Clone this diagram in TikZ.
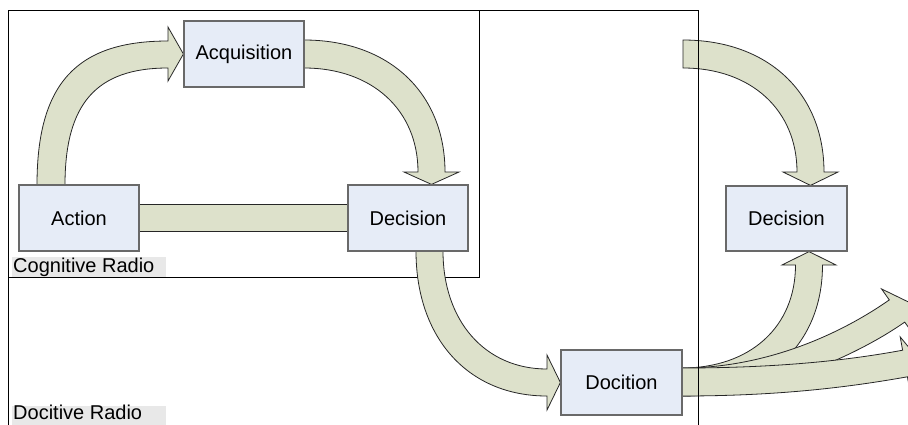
\documentclass[tikz,border=0pt]{standalone}
\usepackage{fontspec}
\setmainfont{Liberation Sans}
\usetikzlibrary{calc}
\definecolor{boxfill}{RGB}{230,236,247}
\definecolor{boxline}{RGB}{105,105,105}
\definecolor{arrowfill}{RGB}{221,225,203}
\definecolor{taggray}{RGB}{232,232,232}
\pgfdeclarelayer{bg}
\pgfdeclarelayer{flow}
\pgfsetlayers{bg,flow,main}
\begin{document}
\begin{tikzpicture}[x=1pt,y=-1pt,
  stage/.style={draw=boxline, fill=boxfill, line width=1.2pt, minimum width=120pt,
    minimum height=66pt, inner sep=0pt, font=\fontsize{20}{24}\selectfont},
  blockarrow/.style={draw=black!85, fill=arrowfill, line width=0.8pt, line join=miter},
  frame/.style={draw=black, line width=0.9pt},
  tag/.style={font=\fontsize{20}{24}\selectfont, inner sep=0pt, anchor=base west}]
\useasboundingbox (0,0) rectangle (908,424);
\clip (0,0) rectangle (908,424);

% process stages
\node[stage] (act)  at (79,218)      {Action};
\node[stage] (acq)  at (244,54)      {Acquisition};
\node[stage] (decL) at (408,218)     {Decision};
\node[stage, minimum width=121pt, minimum height=65pt] (decR) at (786.5,218.5) {Decision};
\node[stage, minimum width=121pt, minimum height=65pt] (doc)  at (621.5,382.5) {Docition};

% cognitive radio frame
\begin{pgfonlayer}{bg}
  \draw[frame] (8,10) rectangle (479,277);
\end{pgfonlayer}

% block arrows of the cycle
\begin{pgfonlayer}{flow}
  % Action -- Decision band
  \path[blockarrow] ($(act.east)+(0,-13.5)$) rectangle ($(decL.west)+(0,13.5)$);
  % Action -> Acquisition
  \path[blockarrow] (37,185) .. controls (37,84) and (76,41) .. (168,41)
    -- (168,27) -- (acq.west) -- (168,81) -- (168,68)
    .. controls (96,68) and (65,104) .. (65,185) -- cycle;
  % Acquisition -> Decision
  \path[blockarrow] (304,40) .. controls (389,40) and (445,93) .. (445,172)
    -- (459,172) -- ($(decL.north)+(23.5,0)$) -- (404,172) -- (418,172)
    .. controls (418,110) and (372,68) .. (304,68) -- cycle;
  % Decision -> Docition
  \path[blockarrow] (416,251) .. controls (416,338) and (468,396) .. (547,396)
    -- (547,410) -- (doc.west) -- (547,355) -- (547,369)
    .. controls (485,369) and (443,321) .. (443,251) -- cycle;
  % incoming arrow to the right Decision
  \path[blockarrow] (683,40) .. controls (768,40) and (824,93) .. (824,172)
    -- (838,172) -- ($(decR.north)+(24,0)$) -- (783,172) -- (797,172)
    .. controls (797,110) and (751,68) .. (683,68) -- cycle;
  % Docition -> Decision
  \path[blockarrow] (682,396) .. controls (767,396) and (822.5,344) .. (822.5,265)
    -- (836,265) -- ($(decR.south)+(22.5,0)$) -- (782,265) -- (795.5,265)
    .. controls (795.5,327) and (750,368) .. (682,368) -- cycle;
  % Docition -> upper right
  \path[blockarrow] (682,396) .. controls (770,396) and (860,353.5) .. (904.7,322.1)
    -- (912.5,333.1) -- (909.3,302.4) -- (881.5,288.9) -- (889.3,299.9)
    .. controls (845,331) and (770,368) .. (682,368) -- cycle;
  % Docition -> right
  \path[blockarrow] (682,396) .. controls (780,396) and (850,387) .. (907.4,376.8)
    -- (909.8,390.1) -- (919.8,360.8) -- (900.2,336.9) -- (902.6,350.2)
    .. controls (850,360) and (780,368) .. (682,368) -- cycle;
\end{pgfonlayer}

% docitive radio frame
\draw[frame] (8,10) rectangle (698.5,440);

% frame captions
\fill[taggray] (12,257) rectangle (166,276.5);
\node[tag] (crtag) at (13,272.5) {Cognitive Radio};
\fill[taggray] (12,406) rectangle (166,430);
\node[tag] (drtag) at (13,419.5) {Docitive Radio};
\end{tikzpicture}
\end{document}
